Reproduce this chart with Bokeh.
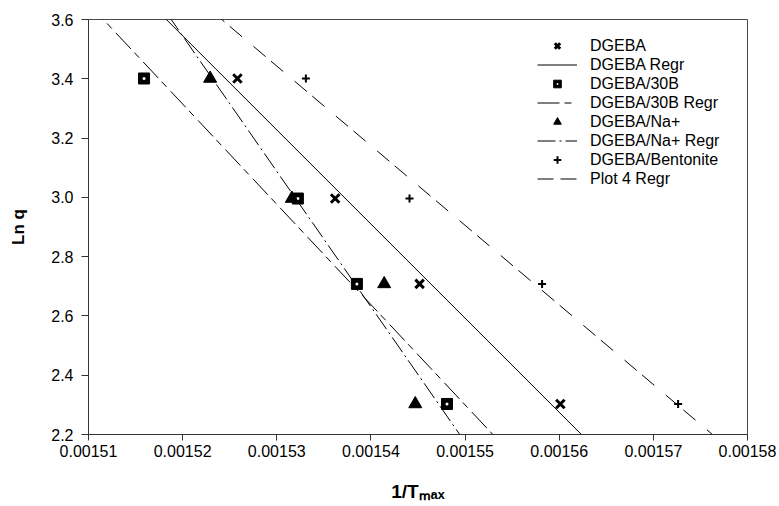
import numpy as np
from bokeh.plotting import figure
from bokeh.models import (Range1d, FixedTicker, PrintfTickFormatter, Legend,
                          LegendItem)
from bokeh.embed import file_html
from bokeh.resources import INLINE

# ln of heating rate q (shared by all four systems)
ln_q = [3.401, 2.996, 2.708, 2.303]

# 1/Tmax for each system, same order as ln_q
inv_tmax_dgeba = [0.00152582, 0.00153620, 0.00154517, 0.00156012]
inv_tmax_30b = [0.00151590, 0.00153224, 0.00153851, 0.00154808]
inv_tmax_na = [0.00152292, 0.00153160, 0.00154141, 0.00154471]
inv_tmax_bentonite = [0.00153309, 0.00154410, 0.00155818, 0.00157263]

x_ticks = [0.00151, 0.00152, 0.00153, 0.00154, 0.00155, 0.00156, 0.00157, 0.00158]
y_ticks = [2.2, 2.4, 2.6, 2.8, 3.0, 3.2, 3.4, 3.6]

FONT = "Liberation Sans"

p = figure(width=779, height=506, output_backend="svg", toolbar_location=None,
           x_range=Range1d(x_ticks[0], x_ticks[-1]),
           y_range=Range1d(y_ticks[0], y_ticks[-1]),
           min_border_left=88, min_border_right=32,
           min_border_top=19, min_border_bottom=72)
p.grid.visible = False
p.background_fill_color = "white"
p.border_fill_color = "white"
p.outline_line_color = "#4a4a4a"
p.outline_line_width = 1

for ax in (p.xaxis[0], p.yaxis[0]):
    ax.axis_line_color = "#333333"
    ax.major_tick_line_color = "#333333"
    ax.minor_tick_line_color = None
    ax.major_tick_in = 0
    ax.major_label_text_font = FONT
    ax.major_label_text_font_size = "16px"
    ax.major_label_text_color = "black"
    ax.axis_label_text_font = FONT
    ax.axis_label_text_font_style = "bold"
    ax.axis_label_text_color = "black"

p.xaxis.ticker = FixedTicker(ticks=x_ticks)
p.xaxis.formatter = PrintfTickFormatter(format="%.5f")
p.xaxis.major_tick_out = 6
p.xaxis.major_label_standoff = 4
p.xaxis.axis_label = "1/T\u2098\u2090\u2093"
p.xaxis.axis_label_text_font_size = "19px"
p.xaxis.axis_label_standoff = 21

p.yaxis.ticker = FixedTicker(ticks=y_ticks)
p.yaxis.formatter = PrintfTickFormatter(format="%.1f")
p.yaxis.major_tick_out = 7
p.yaxis.major_label_standoff = 8
p.yaxis.axis_label = "Ln q"
p.yaxis.axis_label_text_font_size = "17px"
p.yaxis.axis_label_standoff = 20

x_line = [x_ticks[0], x_ticks[-1]]


def regression(xs):
    slope, intercept = np.polyfit(xs, ln_q, 1)
    return [slope * x + intercept for x in x_line]


# regression lines
r_dgeba_line = p.line(x_line, regression(inv_tmax_dgeba), line_color="black", line_width=1)
r_30b_line = p.line(x_line, regression(inv_tmax_30b), line_color="black", line_width=1,
                    line_dash="22 5 7 6")
r_na_line = p.line(x_line, regression(inv_tmax_na), line_color="black", line_width=1,
                   line_dash="18 4 2 4")
r_bent_line = p.line(x_line, regression(inv_tmax_bentonite), line_color="black", line_width=1,
                     line_dash="16 7 16 15")

# data points
r_dgeba = p.scatter(inv_tmax_dgeba, ln_q, marker="x", size=12, line_color="black", line_width=3)
r_30b = p.scatter(inv_tmax_30b, ln_q, marker="square", size=11, fill_color="black",
                  line_color="black")
r_30b_dot = p.scatter(inv_tmax_30b, ln_q, marker="dot", size=12, line_color="white",
                      fill_color="white")
r_na = p.scatter(inv_tmax_na, ln_q, marker="triangle", size=13, fill_color="black",
                 line_color="black")
r_bent = p.scatter(inv_tmax_bentonite, ln_q, marker="cross", size=8, line_color="black",
                   line_width=2)

legend = Legend(items=[
    LegendItem(label="DGEBA", renderers=[r_dgeba]),
    LegendItem(label="DGEBA Regr", renderers=[r_dgeba_line]),
    LegendItem(label="DGEBA/30B", renderers=[r_30b, r_30b_dot]),
    LegendItem(label="DGEBA/30B Regr", renderers=[r_30b_line]),
    LegendItem(label="DGEBA/Na+", renderers=[r_na]),
    LegendItem(label="DGEBA/Na+ Regr", renderers=[r_na_line]),
    LegendItem(label="DGEBA/Bentonite", renderers=[r_bent]),
    LegendItem(label="Plot 4 Regr", renderers=[r_bent_line]),
], location=(449, 246), padding=0, margin=0, spacing=0,
    glyph_width=40, glyph_height=19, label_height=19, label_standoff=13,
    label_text_font=FONT, label_text_font_size="16px", label_text_color="black",
    border_line_color=None, background_fill_alpha=0)
p.add_layout(legend)

open("out.html", "w").write(file_html(p, INLINE))
